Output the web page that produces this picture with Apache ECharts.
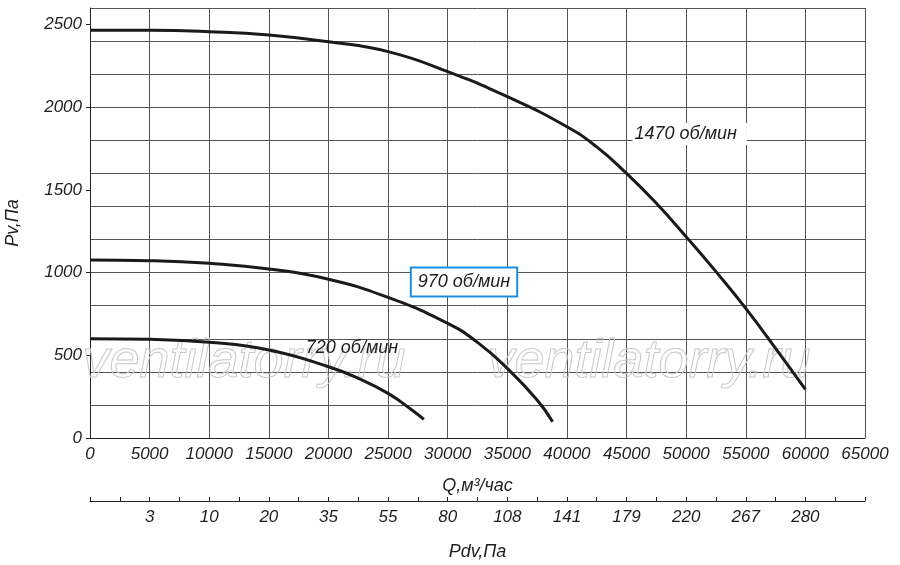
<!DOCTYPE html>
<html>
<head>
<meta charset="utf-8">
<script src="https://cdn.jsdelivr.net/npm/echarts@6.0.0/dist/echarts.min.js"></script>
<style>
  html, body { margin: 0; padding: 0; background: #fff; }
  #chart { width: 900px; height: 565px; }
</style>
</head>
<body>
<div id="chart"></div>
<script>
// Q, м³/час -> Pv, Па
const curve1470 = [
  [0, 2465], [5000, 2465], [10000, 2457], [15000, 2437], [20000, 2396],
  [25000, 2336], [30000, 2215], [35000, 2064], [40000, 1882], [42500, 1760],
  [45000, 1600], [47500, 1419], [50000, 1217], [52500, 1006], [55000, 784],
  [57500, 542], [60000, 294]
]
const curve970 = [
  [0, 1076], [5000, 1072], [10000, 1056], [15000, 1022], [20000, 960],
  [25000, 850], [30000, 693], [32500, 578], [35000, 421], [37500, 230],
  [38800, 98]
]
const curve720 = [
  [0, 600], [5000, 597], [10000, 579], [15000, 532], [20000, 431],
  [22500, 361], [25000, 270], [27000, 169], [28000, 113]
]

const qTicks = [5000, 10000, 15000, 20000, 25000, 30000, 35000, 40000, 45000, 50000, 55000, 60000]
const pdvLabels = ['3', '10', '20', '35', '55', '80', '108', '141', '179', '220', '267', '280']
const pvLabels = [0, 500, 1000, 1500, 2000, 2500]

const font = 'Liberation Sans'
const txt = { fontFamily: font, fontStyle: 'italic', fontSize: 17, color: '#1e1e1e' }

const pdvTicks = []
for (let v = 0; v <= 65000; v += 2500) pdvTicks.push(v)

function line(name, data, label) {
  return {
    name: name,
    type: 'line',
    data: data,
    smooth: 0.5,
    showSymbol: false,
    xAxisIndex: 0,
    yAxisIndex: 0,
    lineStyle: { color: '#1a1a1a', width: 3 },
    markPoint: {
      symbol: 'rect',
      symbolSize: 0,
      data: [label]
    },
    z: 3
  }
}

function wm(x) {
  return {
    type: 'text',
    left: x,
    top: 334,
    silent: true,
    z: 1,
    style: {
      text: 'ventilatorry.ru',
      font: 'italic 54px "' + font + '"',
      fill: 'rgba(255,255,255,0)',
      stroke: '#c8c8c8',
      lineWidth: 1
    }
  }
}

let chart = echarts.init(document.getElementById('chart'))
chart.setOption({
  animation: false,
  backgroundColor: '#fff',
  grid: { left: 90, right: 35, top: 8, bottom: 127, outerBoundsMode: 'none', containLabel: false },
  graphic: [wm(82), wm(487)],
  xAxis: [{
    type: 'value',
    min: 0,
    max: 65000,
    interval: 5000,
    name: 'Q,м³/час',
    nameLocation: 'middle',
    nameGap: 39,
    nameTextStyle: Object.assign({}, txt, { fontSize: 18 }),
    axisLine: { lineStyle: { color: '#222', width: 1 } },
    axisTick: { show: false },
    axisLabel: Object.assign({}, txt, { margin: 8, formatter: v => String(v) }),
    splitLine: { show: true, lineStyle: { color: '#555', width: 1 } }
  }, {
    type: 'value',
    min: 0,
    max: 65000,
    interval: 2500,
    position: 'bottom',
    offset: 63,
    name: 'Pdv,Па',
    nameLocation: 'middle',
    nameGap: 42,
    nameTextStyle: Object.assign({}, txt, { fontSize: 18 }),
    axisLine: { show: true, onZero: false, lineStyle: { color: '#222', width: 1 } },
    axisTick: { show: true, inside: true, length: 4, customValues: pdvTicks, lineStyle: { color: '#222' } },
    axisLabel: Object.assign({}, txt, {
      margin: 8,
      customValues: qTicks,
      formatter: v => {
        let i = qTicks.indexOf(v)
        return i < 0 ? '' : pdvLabels[i]
      }
    }),
    splitLine: { show: false }
  }],
  yAxis: [{
    type: 'value',
    min: 0,
    max: 2600,
    interval: 200,
    position: 'left',
    axisLine: { show: true, lineStyle: { color: '#222', width: 1 } },
    axisTick: { show: false },
    axisLabel: { show: false },
    splitLine: { show: true, lineStyle: { color: '#555', width: 1 } }
  }, {
    type: 'value',
    min: 0,
    max: 2600,
    interval: 500,
    position: 'left',
    offset: 0,
    name: 'Pv,Па',
    nameLocation: 'middle',
    nameGap: 68,
    nameTextStyle: Object.assign({}, txt, { fontSize: 18 }),
    axisLine: { show: false },
    axisTick: { show: true, length: 4, customValues: pvLabels, lineStyle: { color: '#222' } },
    axisLabel: Object.assign({}, txt, { margin: 8, customValues: pvLabels, formatter: v => String(v) }),
    splitLine: { show: false }
  }],
  series: [
    line('1470 об/мин', curve1470, {
      coord: [50300, 1838],
      label: Object.assign({}, txt, {
        show: true, position: 'inside', formatter: '1470 об/мин',
        fontSize: 18, backgroundColor: '#fff', padding: [2, 10, 2, 2]
      })
    }),
    line('970 об/мин', curve970, {
      coord: [31370, 943],
      label: Object.assign({}, txt, {
        show: true, position: 'inside', formatter: '970 об/мин',
        fontSize: 18, backgroundColor: '#fff', borderColor: '#1a8fe0',
        borderWidth: 2, padding: [5, 6, 4, 6]
      })
    }),
    line('720 об/мин', curve720, {
      coord: [21970, 544],
      label: Object.assign({}, txt, {
        show: true, position: 'inside', formatter: '720 об/мин', fontSize: 18
      })
    })
  ]
})
</script>
</body>
</html>
